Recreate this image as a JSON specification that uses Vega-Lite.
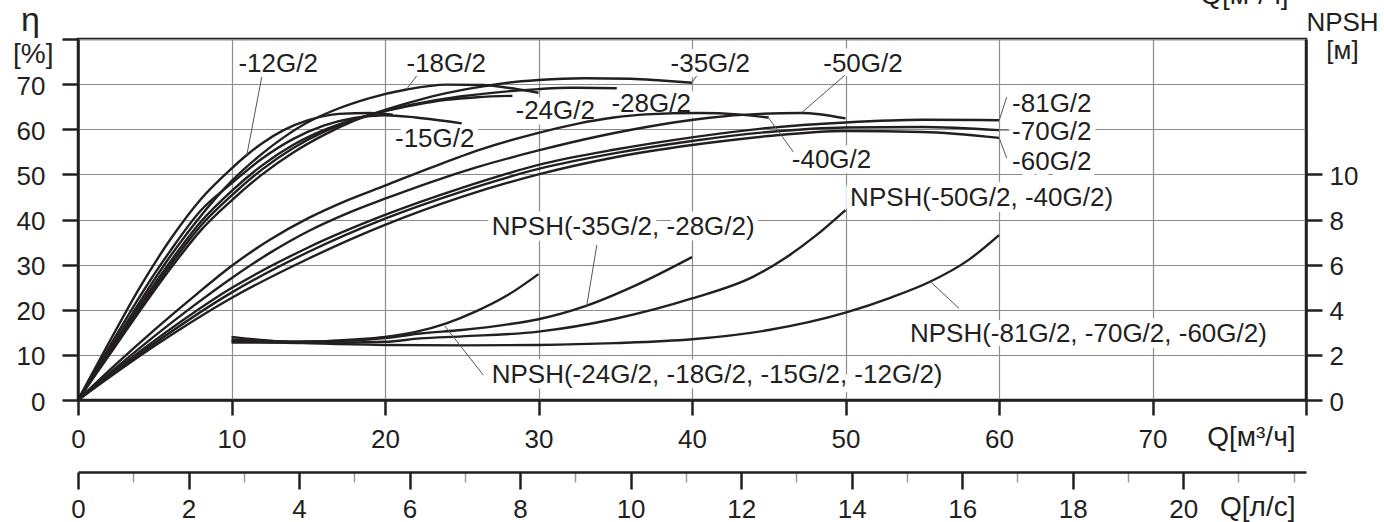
{
  "$schema": "https://vega.github.io/schema/vega-lite/v6.json",
  "width": 1228,
  "height": 361,
  "autosize": {"type": "none"},
  "padding": {"left": 78, "top": 39, "right": 78, "bottom": 122},
  "background": "white",
  "datasets": {
    "eff": [
      {"pump": "-12G/2", "q": 0, "eta": 0}, {"pump": "-12G/2", "q": 2, "eta": 12.6}, {"pump": "-12G/2", "q": 4, "eta": 24.8}, {"pump": "-12G/2", "q": 6, "eta": 35.5}, {"pump": "-12G/2", "q": 8, "eta": 44.5}, {"pump": "-12G/2", "q": 10, "eta": 51.3}, {"pump": "-12G/2", "q": 11, "eta": 54.3}, {"pump": "-12G/2", "q": 12, "eta": 56.9}, {"pump": "-12G/2", "q": 13.4, "eta": 59.8}, {"pump": "-12G/2", "q": 15, "eta": 62}, {"pump": "-12G/2", "q": 17, "eta": 63.4}, {"pump": "-12G/2", "q": 19, "eta": 63.6}, {"pump": "-12G/2", "q": 20.5, "eta": 63.2},
      {"pump": "-15G/2", "q": 0, "eta": 0}, {"pump": "-15G/2", "q": 2, "eta": 11.5}, {"pump": "-15G/2", "q": 4, "eta": 22.8}, {"pump": "-15G/2", "q": 6, "eta": 33}, {"pump": "-15G/2", "q": 8, "eta": 42}, {"pump": "-15G/2", "q": 10, "eta": 48}, {"pump": "-15G/2", "q": 12, "eta": 53.5}, {"pump": "-15G/2", "q": 14, "eta": 57.8}, {"pump": "-15G/2", "q": 16, "eta": 60.8}, {"pump": "-15G/2", "q": 18, "eta": 62.5}, {"pump": "-15G/2", "q": 20, "eta": 63.1}, {"pump": "-15G/2", "q": 22, "eta": 62.6}, {"pump": "-15G/2", "q": 25, "eta": 61.3},
      {"pump": "-18G/2", "q": 0, "eta": 0}, {"pump": "-18G/2", "q": 2, "eta": 10.8}, {"pump": "-18G/2", "q": 4, "eta": 21.6}, {"pump": "-18G/2", "q": 6, "eta": 31.8}, {"pump": "-18G/2", "q": 8, "eta": 40.8}, {"pump": "-18G/2", "q": 10, "eta": 48.5}, {"pump": "-18G/2", "q": 12, "eta": 54.6}, {"pump": "-18G/2", "q": 13.4, "eta": 58.2}, {"pump": "-18G/2", "q": 15, "eta": 61.6}, {"pump": "-18G/2", "q": 16.6, "eta": 64.1}, {"pump": "-18G/2", "q": 19, "eta": 66.9}, {"pump": "-18G/2", "q": 21.4, "eta": 68.8}, {"pump": "-18G/2", "q": 24, "eta": 69.9}, {"pump": "-18G/2", "q": 26.4, "eta": 69.8}, {"pump": "-18G/2", "q": 28, "eta": 69.2}, {"pump": "-18G/2", "q": 30, "eta": 68.1},
      {"pump": "-24G/2", "q": 0, "eta": 0}, {"pump": "-24G/2", "q": 2, "eta": 10.4}, {"pump": "-24G/2", "q": 4, "eta": 20.8}, {"pump": "-24G/2", "q": 6, "eta": 30.6}, {"pump": "-24G/2", "q": 8, "eta": 39.5}, {"pump": "-24G/2", "q": 10, "eta": 46.3}, {"pump": "-24G/2", "q": 12, "eta": 52}, {"pump": "-24G/2", "q": 14, "eta": 56.5}, {"pump": "-24G/2", "q": 16, "eta": 59.8}, {"pump": "-24G/2", "q": 18, "eta": 62.2}, {"pump": "-24G/2", "q": 20, "eta": 64}, {"pump": "-24G/2", "q": 22, "eta": 65.4}, {"pump": "-24G/2", "q": 24, "eta": 66.5}, {"pump": "-24G/2", "q": 26, "eta": 67.1}, {"pump": "-24G/2", "q": 28.3, "eta": 67.4},
      {"pump": "-28G/2", "q": 0, "eta": 0}, {"pump": "-28G/2", "q": 2, "eta": 10.1}, {"pump": "-28G/2", "q": 4, "eta": 20.1}, {"pump": "-28G/2", "q": 6, "eta": 29.8}, {"pump": "-28G/2", "q": 8, "eta": 38.6}, {"pump": "-28G/2", "q": 10, "eta": 45.3}, {"pump": "-28G/2", "q": 12, "eta": 51.1}, {"pump": "-28G/2", "q": 14, "eta": 55.8}, {"pump": "-28G/2", "q": 16, "eta": 59.4}, {"pump": "-28G/2", "q": 18, "eta": 62.1}, {"pump": "-28G/2", "q": 20, "eta": 64.1}, {"pump": "-28G/2", "q": 22, "eta": 65.6}, {"pump": "-28G/2", "q": 25, "eta": 67.3}, {"pump": "-28G/2", "q": 28, "eta": 68.4}, {"pump": "-28G/2", "q": 30, "eta": 68.9}, {"pump": "-28G/2", "q": 32, "eta": 69.2}, {"pump": "-28G/2", "q": 35.1, "eta": 69.1},
      {"pump": "-35G/2", "q": 0, "eta": 0}, {"pump": "-35G/2", "q": 2, "eta": 9.8}, {"pump": "-35G/2", "q": 4, "eta": 19.6}, {"pump": "-35G/2", "q": 6, "eta": 29}, {"pump": "-35G/2", "q": 8, "eta": 37.6}, {"pump": "-35G/2", "q": 10, "eta": 44.2}, {"pump": "-35G/2", "q": 12, "eta": 50}, {"pump": "-35G/2", "q": 14, "eta": 54.8}, {"pump": "-35G/2", "q": 16, "eta": 58.7}, {"pump": "-35G/2", "q": 18, "eta": 61.9}, {"pump": "-35G/2", "q": 20, "eta": 64.3}, {"pump": "-35G/2", "q": 22, "eta": 66.3}, {"pump": "-35G/2", "q": 24, "eta": 68}, {"pump": "-35G/2", "q": 26.4, "eta": 69.5}, {"pump": "-35G/2", "q": 28, "eta": 70.3}, {"pump": "-35G/2", "q": 30, "eta": 70.9}, {"pump": "-35G/2", "q": 33, "eta": 71.3}, {"pump": "-35G/2", "q": 36, "eta": 71.2}, {"pump": "-35G/2", "q": 38, "eta": 70.8}, {"pump": "-35G/2", "q": 40, "eta": 70.3},
      {"pump": "-40G/2", "q": 0, "eta": 0}, {"pump": "-40G/2", "q": 2.5, "eta": 8}, {"pump": "-40G/2", "q": 5, "eta": 15.6}, {"pump": "-40G/2", "q": 7.5, "eta": 22.8}, {"pump": "-40G/2", "q": 10, "eta": 29.7}, {"pump": "-40G/2", "q": 12.5, "eta": 35.5}, {"pump": "-40G/2", "q": 15, "eta": 40.3}, {"pump": "-40G/2", "q": 17.5, "eta": 44.2}, {"pump": "-40G/2", "q": 20, "eta": 47.5}, {"pump": "-40G/2", "q": 23, "eta": 51.5}, {"pump": "-40G/2", "q": 26.3, "eta": 55.6}, {"pump": "-40G/2", "q": 30, "eta": 59.2}, {"pump": "-40G/2", "q": 32.5, "eta": 61.2}, {"pump": "-40G/2", "q": 34.9, "eta": 62.6}, {"pump": "-40G/2", "q": 37, "eta": 63.3}, {"pump": "-40G/2", "q": 40.5, "eta": 63.6}, {"pump": "-40G/2", "q": 43, "eta": 63.3}, {"pump": "-40G/2", "q": 45, "eta": 62.6},
      {"pump": "-50G/2", "q": 0, "eta": 0}, {"pump": "-50G/2", "q": 2.5, "eta": 7.2}, {"pump": "-50G/2", "q": 5, "eta": 14.2}, {"pump": "-50G/2", "q": 7.5, "eta": 20.8}, {"pump": "-50G/2", "q": 10, "eta": 27}, {"pump": "-50G/2", "q": 12.5, "eta": 32.6}, {"pump": "-50G/2", "q": 15, "eta": 37.4}, {"pump": "-50G/2", "q": 17.5, "eta": 41.3}, {"pump": "-50G/2", "q": 20, "eta": 44.6}, {"pump": "-50G/2", "q": 23, "eta": 48.3}, {"pump": "-50G/2", "q": 26, "eta": 51.6}, {"pump": "-50G/2", "q": 30, "eta": 55.3}, {"pump": "-50G/2", "q": 34, "eta": 58.5}, {"pump": "-50G/2", "q": 37.9, "eta": 61}, {"pump": "-50G/2", "q": 41, "eta": 62.5}, {"pump": "-50G/2", "q": 44.4, "eta": 63.4}, {"pump": "-50G/2", "q": 47.1, "eta": 63.6}, {"pump": "-50G/2", "q": 50, "eta": 62.4},
      {"pump": "-60G/2", "q": 0, "eta": 0}, {"pump": "-60G/2", "q": 5, "eta": 12}, {"pump": "-60G/2", "q": 10, "eta": 22.6}, {"pump": "-60G/2", "q": 15, "eta": 31.3}, {"pump": "-60G/2", "q": 20, "eta": 38.8}, {"pump": "-60G/2", "q": 25, "eta": 45}, {"pump": "-60G/2", "q": 30, "eta": 50}, {"pump": "-60G/2", "q": 35, "eta": 53.8}, {"pump": "-60G/2", "q": 40, "eta": 56.5}, {"pump": "-60G/2", "q": 45, "eta": 58.5}, {"pump": "-60G/2", "q": 50, "eta": 59.6}, {"pump": "-60G/2", "q": 55, "eta": 59.4}, {"pump": "-60G/2", "q": 60, "eta": 58.1},
      {"pump": "-70G/2", "q": 0, "eta": 0}, {"pump": "-70G/2", "q": 5, "eta": 12.6}, {"pump": "-70G/2", "q": 10, "eta": 23.8}, {"pump": "-70G/2", "q": 15, "eta": 32.8}, {"pump": "-70G/2", "q": 20, "eta": 40.2}, {"pump": "-70G/2", "q": 25, "eta": 46.2}, {"pump": "-70G/2", "q": 30, "eta": 51.2}, {"pump": "-70G/2", "q": 35, "eta": 54.7}, {"pump": "-70G/2", "q": 40, "eta": 57.4}, {"pump": "-70G/2", "q": 45, "eta": 59.4}, {"pump": "-70G/2", "q": 50, "eta": 60.4}, {"pump": "-70G/2", "q": 55, "eta": 60.5}, {"pump": "-70G/2", "q": 60, "eta": 59.8},
      {"pump": "-81G/2", "q": 0, "eta": 0}, {"pump": "-81G/2", "q": 5, "eta": 13.2}, {"pump": "-81G/2", "q": 10, "eta": 24.8}, {"pump": "-81G/2", "q": 15, "eta": 33.8}, {"pump": "-81G/2", "q": 20, "eta": 41}, {"pump": "-81G/2", "q": 25, "eta": 47}, {"pump": "-81G/2", "q": 30, "eta": 52.1}, {"pump": "-81G/2", "q": 35, "eta": 55.5}, {"pump": "-81G/2", "q": 40, "eta": 58.2}, {"pump": "-81G/2", "q": 45, "eta": 60.3}, {"pump": "-81G/2", "q": 50, "eta": 61.5}, {"pump": "-81G/2", "q": 55, "eta": 62.1}, {"pump": "-81G/2", "q": 60, "eta": 62}
    ],
    "npsh": [
      {"grp": "N1", "q": 10, "npsh": 2.55}, {"grp": "N1", "q": 13, "npsh": 2.55}, {"grp": "N1", "q": 16, "npsh": 2.6}, {"grp": "N1", "q": 18, "npsh": 2.68}, {"grp": "N1", "q": 20, "npsh": 2.8}, {"grp": "N1", "q": 22, "npsh": 3.02}, {"grp": "N1", "q": 24, "npsh": 3.4}, {"grp": "N1", "q": 26, "npsh": 3.95}, {"grp": "N1", "q": 28, "npsh": 4.65}, {"grp": "N1", "q": 30, "npsh": 5.58},
      {"grp": "N2", "q": 10, "npsh": 2.68}, {"grp": "N2", "q": 14, "npsh": 2.6}, {"grp": "N2", "q": 18, "npsh": 2.64}, {"grp": "N2", "q": 20, "npsh": 2.74}, {"grp": "N2", "q": 22.3, "npsh": 2.95}, {"grp": "N2", "q": 25, "npsh": 3.1}, {"grp": "N2", "q": 28, "npsh": 3.35}, {"grp": "N2", "q": 30, "npsh": 3.58}, {"grp": "N2", "q": 33.1, "npsh": 4.17}, {"grp": "N2", "q": 36.4, "npsh": 5.1}, {"grp": "N2", "q": 40, "npsh": 6.33},
      {"grp": "N3", "q": 10, "npsh": 2.62}, {"grp": "N3", "q": 15, "npsh": 2.52}, {"grp": "N3", "q": 20, "npsh": 2.58}, {"grp": "N3", "q": 22.3, "npsh": 2.73}, {"grp": "N3", "q": 25, "npsh": 2.82}, {"grp": "N3", "q": 30, "npsh": 3.03}, {"grp": "N3", "q": 35, "npsh": 3.6}, {"grp": "N3", "q": 40, "npsh": 4.5}, {"grp": "N3", "q": 44, "npsh": 5.47}, {"grp": "N3", "q": 46.2, "npsh": 6.35}, {"grp": "N3", "q": 48, "npsh": 7.25}, {"grp": "N3", "q": 50, "npsh": 8.42},
      {"grp": "N4", "q": 10, "npsh": 2.8}, {"grp": "N4", "q": 13, "npsh": 2.6}, {"grp": "N4", "q": 16, "npsh": 2.5}, {"grp": "N4", "q": 20, "npsh": 2.44}, {"grp": "N4", "q": 25, "npsh": 2.42}, {"grp": "N4", "q": 30, "npsh": 2.44}, {"grp": "N4", "q": 35, "npsh": 2.52}, {"grp": "N4", "q": 40, "npsh": 2.69}, {"grp": "N4", "q": 45, "npsh": 3.1}, {"grp": "N4", "q": 50, "npsh": 3.87}, {"grp": "N4", "q": 53, "npsh": 4.55}, {"grp": "N4", "q": 55.5, "npsh": 5.24}, {"grp": "N4", "q": 58, "npsh": 6.2}, {"grp": "N4", "q": 60, "npsh": 7.31}
    ],
    "labels": [
      {"text": "-12G/2", "q": 10.45, "eta": 72.7},
      {"text": "-18G/2", "q": 21.4, "eta": 72.7},
      {"text": "-35G/2", "q": 38.6, "eta": 72.7},
      {"text": "-50G/2", "q": 48.55, "eta": 72.7},
      {"text": "-24G/2", "q": 28.5, "eta": 62.3},
      {"text": "-28G/2", "q": 34.75, "eta": 63.8},
      {"text": "-15G/2", "q": 20.65, "eta": 56.1},
      {"text": "-40G/2", "q": 46.5, "eta": 51.4},
      {"text": "-81G/2", "q": 60.85, "eta": 63.8},
      {"text": "-70G/2", "q": 60.85, "eta": 57.6},
      {"text": "-60G/2", "q": 60.85, "eta": 51.0},
      {"text": "NPSH(-50G/2, -40G/2)", "q": 50.3, "eta": 43.0},
      {"text": "NPSH(-35G/2, -28G/2)", "q": 26.95, "eta": 36.6},
      {"text": "NPSH(-24G/2, -18G/2, -15G/2, -12G/2)", "q": 26.95, "eta": 3.7},
      {"text": "NPSH(-81G/2, -70G/2, -60G/2)", "q": 54.2, "eta": 12.9}
    ],
    "leaders": [
      {"q": 11.97, "eta": 71.6, "q2": 11.0, "eta2": 54.3},
      {"q": 22.06, "eta": 71.8, "q2": 21.41, "eta2": 68.9},
      {"q": 40.3, "eta": 71.8, "q2": 39.98, "eta2": 70.3},
      {"q": 49.97, "eta": 72.0, "q2": 47.15, "eta2": 63.7},
      {"q": 46.6, "eta": 55.0, "q2": 44.97, "eta2": 62.6},
      {"q": 60.5, "eta": 67.1, "q2": 60.02, "eta2": 62.05},
      {"q": 60.02, "eta": 59.83, "q2": 60.7, "eta2": 59.83},
      {"q": 60.02, "eta": 58.0, "q2": 60.5, "eta2": 53.6},
      {"q": 33.8, "eta": 34.35, "q2": 33.14, "eta2": 20.83},
      {"q": 26.4, "eta": 5.54, "q2": 23.9, "eta2": 16.4},
      {"q": 57.4, "eta": 20.3, "q2": 55.5, "eta2": 26.3}
    ]
  },
  "layer": [
    {
      "data": {"name": "labels"},
      "mark": {"type": "text", "align": "left", "baseline": "alphabetic", "font": "Liberation Sans", "fontSize": 26, "fill": "white", "stroke": "white", "strokeWidth": 12, "strokeJoin": "round"},
      "encoding": {
        "x": {
          "field": "q", "type": "quantitative", "scale": {"domain": [0, 80], "nice": false},
          "axis": {
            "orient": "top", "domain": false, "ticks": false, "labels": false, "grid": false,
            "title": "Q[м³/ч]", "titleX": 1210, "titleY": -36, "titleAlign": "right", "titleBaseline": "alphabetic", "titleFontSize": 28
          }
        },
        "y": {"field": "eta", "type": "quantitative", "scale": {"domain": [0, 80], "nice": false}, "axis": null},
        "text": {"field": "text"}
      }
    },
    {
      "data": {"name": "eff"},
      "mark": {"type": "line", "interpolate": "monotone", "strokeWidth": 2.4, "stroke": "#231f20"},
      "encoding": {
        "x": {
          "field": "q", "type": "quantitative", "scale": {"domain": [0, 80], "nice": false},
          "axis": {
            "orient": "bottom",
            "values": [0, 10, 20, 30, 40, 50, 60, 70, 80],
            "labelExpr": "datum.value >= 80 ? '' : datum.label",
            "tickSize": 15, "labelPadding": 11,
            "grid": true,
            "title": "Q[м³/ч]", "titleX": 1217, "titleY": 45, "titleAlign": "right", "titleBaseline": "alphabetic", "titleFontSize": 28
          }
        },
        "y": {
          "field": "eta", "type": "quantitative", "scale": {"domain": [0, 80], "nice": false},
          "axis": {
            "orient": "left",
            "values": [0, 10, 20, 30, 40, 50, 60, 70, 80],
            "labelExpr": "datum.value == 80 ? '[%]' : datum.label",
            "tickSize": 16,
            "labelPadding": {"condition": {"test": "datum.value == 80", "value": 9}, "value": 17},
            "labelOffset": {"condition": {"test": "datum.value == 80", "value": 23}, "value": 2},
            "labelBaseline": {"condition": {"test": "datum.value == 80", "value": "alphabetic"}, "value": "middle"},
            "labelFontSize": {"condition": {"test": "datum.value == 80", "value": 28}, "value": 26},
            "grid": true,
            "title": "η", "titleAngle": 0, "titleX": -48, "titleY": -9, "titleAlign": "center", "titleBaseline": "alphabetic", "titleFontSize": 34
          }
        },
        "detail": {"field": "pump"}
      }
    },
    {
      "data": {"name": "npsh"},
      "mark": {"type": "line", "interpolate": "monotone", "strokeWidth": 2.4, "stroke": "#231f20"},
      "encoding": {
        "x": {"field": "q", "type": "quantitative", "scale": {"domain": [0, 80], "nice": false}, "axis": null},
        "y": {
          "field": "npsh", "type": "quantitative", "scale": {"domain": [0, 16], "nice": false},
          "axis": {
            "orient": "right",
            "values": [0, 2, 4, 6, 8, 10],
            "tickSize": 16, "labelPadding": 7, "labelOffset": 2,
            "grid": false,
            "title": ["NPSH", "[м]"], "titleAngle": 0, "titleX": 36, "titleY": -9, "titleAlign": "center", "titleBaseline": "alphabetic", "titleLineHeight": 28
          }
        },
        "detail": {"field": "grp"}
      }
    },
    {
      "data": {"name": "leaders"},
      "mark": {"type": "rule", "strokeWidth": 1, "stroke": "#555555"},
      "encoding": {
        "x": {
          "field": "q", "type": "quantitative", "scale": {"domain": [0, 80], "nice": false},
          "axis": {
            "orient": "bottom", "offset": 72,
            "values": [0, 3.6, 7.2, 10.8, 14.4, 18, 21.6, 25.2, 28.8, 32.4, 36, 39.6, 43.2, 46.8, 50.4, 54, 57.6, 61.2, 64.8, 68.4, 72, 75.6, 79.2],
            "labelExpr": "(round(datum.value / 3.6) % 2 == 0 && datum.value < 75) ? format(round(datum.value / 3.6), 'd') : ''",
            "tickSize": {"condition": {"test": "round(datum.value / 3.6) % 2 == 0 && datum.value < 75", "value": 17}, "value": 10},
            "tickColor": {"condition": {"test": "round(datum.value / 3.6) % 2 == 0 && datum.value < 75", "value": "#231f20"}, "value": "#9a9a9a"},
            "tickWidth": {"condition": {"test": "round(datum.value / 3.6) % 2 == 0 && datum.value < 75", "value": 2.5}, "value": 1.5},
            "labelPadding": 7,
            "grid": false,
            "title": "Q[л/с]", "titleX": 1217, "titleY": 43, "titleAlign": "right", "titleBaseline": "alphabetic", "titleFontSize": 28
          }
        },
        "x2": {"field": "q2"},
        "y": {"field": "eta", "type": "quantitative", "scale": {"domain": [0, 80], "nice": false}, "axis": null},
        "y2": {"field": "eta2"}
      }
    },
    {
      "data": {"name": "labels"},
      "mark": {"type": "text", "align": "left", "baseline": "alphabetic", "font": "Liberation Sans", "fontSize": 26, "fill": "#231f20"},
      "encoding": {
        "x": {"field": "q", "type": "quantitative", "scale": {"domain": [0, 80], "nice": false}, "axis": null},
        "y": {"field": "eta", "type": "quantitative", "scale": {"domain": [0, 80], "nice": false}, "axis": null},
        "text": {"field": "text"}
      }
    }
  ],
  "resolve": {"scale": {"y": "independent"}, "axis": {"x": "independent", "y": "independent"}},
  "config": {
    "font": "Liberation Sans",
    "view": {"stroke": "#231f20", "strokeWidth": 2.5},
    "axis": {
      "labelFont": "Liberation Sans", "labelFontSize": 26, "labelColor": "#231f20",
      "titleFont": "Liberation Sans", "titleFontSize": 26, "titleFontWeight": "normal", "titleColor": "#231f20",
      "domainColor": "#231f20", "domainWidth": 2.5,
      "tickColor": "#231f20", "tickWidth": 2.5,
      "gridColor": "#8c8c8c", "gridWidth": 1.2,
      "labelOverlap": false, "labelFlush": false, "labelBound": false
    }
  }
}
